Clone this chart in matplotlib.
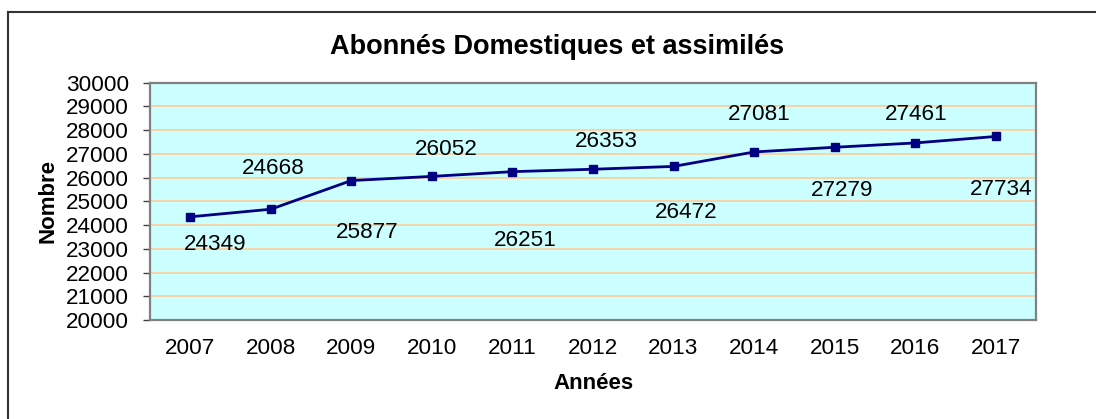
import matplotlib
matplotlib.use("Agg")
import matplotlib.pyplot as plt
from matplotlib.lines import Line2D

plt.rcParams['font.family'] = ['Liberation Sans', 'DejaVu Sans']

# données
annees = ["2007", "2008", "2009", "2010", "2011", "2012", "2013", "2014", "2015", "2016", "2017"]
abonnes = [24349, 24668, 25877, 26052, 26251, 26353, 26472, 27081, 27279, 27461, 27734]

# décalage des étiquettes (pixels) : au-dessus / en dessous en alternance
decalages = [(25, -28), (2, 41), (16, -52), (14, 27), (13, -69), (13, 28),
             (13, -46), (5, 37), (7, -43), (1, 28), (5, -53)]

fig = plt.figure(figsize=(10.96, 4.19), dpi=100)
ax = fig.add_axes([150 / 1096, 1 - 320 / 419, 886 / 1096, 237.3 / 419])

ax.set_facecolor("#CCFFFF")
x = list(range(len(annees)))
ax.plot(x, abonnes, color="#000080", linewidth=2, marker="s", markersize=5.5, zorder=3)

for xi, v, (dx, dy) in zip(x, abonnes, decalages):
    ax.annotate(str(v), (xi, v), xytext=(dx, dy), textcoords="offset pixels",
                ha="center", va="center", fontsize=16.2, color="black")

ax.set_xlim(-0.5, len(annees) - 0.5)
ax.set_ylim(20000, 30000)
ax.set_yticks(range(20000, 30001, 1000))
ax.set_xticks(x)
ax.set_xticklabels(annees)
ax.yaxis.grid(True, color="#FFCC99", linewidth=1.2)
ax.set_axisbelow(True)

ax.tick_params(axis="y", labelsize=16.2, length=5, width=1, color="#404040", pad=10)
ax.tick_params(axis="x", labelsize=16.2, length=0, pad=13)

for s in ax.spines.values():
    s.set_color("#808080")
    s.set_linewidth(1.6)

ax.set_xlabel("Années", fontsize=16, fontweight="bold", labelpad=10)
fig.text(48 / 1096, 1 - 201 / 419, "Nombre", rotation=90, fontsize=16,
         fontweight="bold", ha="center", va="center")
fig.text(557 / 1096, 1 - 47 / 419, "Abonnés Domestiques et assimilés",
         fontsize=19.5, fontweight="bold", ha="center", va="center")

# cadre extérieur (gauche et haut)
fig.add_artist(Line2D([7.5 / 1096, 7.5 / 1096], [0, 1 - 12 / 419], color="#333333", linewidth=1.5))
fig.add_artist(Line2D([7.5 / 1096, 1], [1 - 12 / 419, 1 - 12 / 419], color="#333333", linewidth=1.5))

fig.savefig("out.png", dpi=100)
